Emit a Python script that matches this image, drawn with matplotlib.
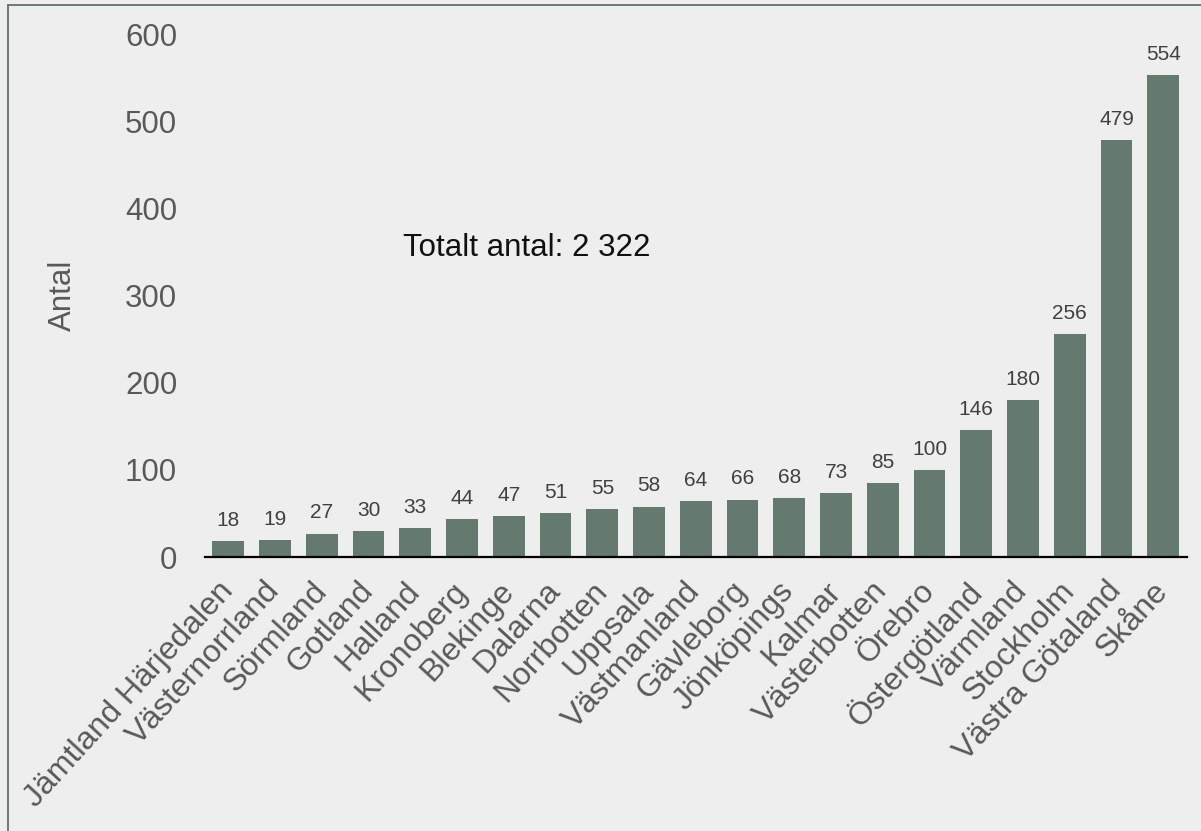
import matplotlib.pyplot as plt
from matplotlib.lines import Line2D

plt.rcParams['font.family'] = ['Liberation Sans', 'DejaVu Sans']

regions = ['Jämtland Härjedalen', 'Västernorrland', 'Sörmland', 'Gotland', 'Halland',
           'Kronoberg', 'Blekinge', 'Dalarna', 'Norrbotten', 'Uppsala', 'Västmanland',
           'Gävleborg', 'Jönköpings', 'Kalmar', 'Västerbotten', 'Örebro', 'Östergötland',
           'Värmland', 'Stockholm', 'Västra Götaland', 'Skåne']
antal = [18, 19, 27, 30, 33, 44, 47, 51, 55, 58, 64, 66, 68, 73, 85, 100, 146, 180, 256, 479, 554]
yticks = [0, 100, 200, 300, 400, 500, 600]
totalt = 'Totalt antal: 2 322'

bg = '#eeeeee'
bar_color = '#647a6f'

fig = plt.figure(figsize=(12.01, 8.31), dpi=100, facecolor=bg)
ax = fig.add_axes([0.1707, 0.3297, 0.8173, 0.6283])
ax.set_facecolor(bg)

x = list(range(len(regions)))
ax.bar(x, antal, width=0.68, color=bar_color)

# värden ovanför staplarna
for xi, v in zip(x, antal):
    ax.annotate(str(v), (xi, v), xytext=(0, 8), textcoords='offset points',
                ha='center', va='bottom', fontsize=15, color='#404040')

ax.set_xlim(-0.5, len(regions) - 0.5)
ax.set_ylim(0, 600)
ax.set_yticks(yticks)
ax.set_yticklabels([str(t) for t in yticks], fontsize=22.5, color='#595959')
ax.set_xticks(x)
ax.set_xticklabels(regions, rotation=47.5, ha='right', va='center', rotation_mode='anchor',
                   fontsize=23, color='#595959')
ax.tick_params(axis='both', length=0)
ax.tick_params(axis='y', pad=20)
ax.tick_params(axis='x', pad=21)

for side in ['top', 'right', 'left']:
    ax.spines[side].set_visible(False)
ax.spines['bottom'].set_color('black')
ax.spines['bottom'].set_linewidth(1.6)

fig.text(0.052, 0.645, 'Antal', rotation=90, ha='center', va='center',
         fontsize=22.5, color='#595959')
fig.text(0.3356, 0.701, totalt, ha='left', va='center', fontsize=22.5, color='#111111')

# ram: bara överkant och vänsterkant syns
x0, y0 = 8 / 1201, 1 - 5 / 831
fig.add_artist(Line2D([x0, 1.0], [y0, y0], transform=fig.transFigure,
                      color='#687c72', linewidth=1.4))
fig.add_artist(Line2D([x0, x0], [0.0, y0], transform=fig.transFigure,
                      color='#687c72', linewidth=1.4))

plt.savefig('out.png', dpi=100, facecolor=bg)
